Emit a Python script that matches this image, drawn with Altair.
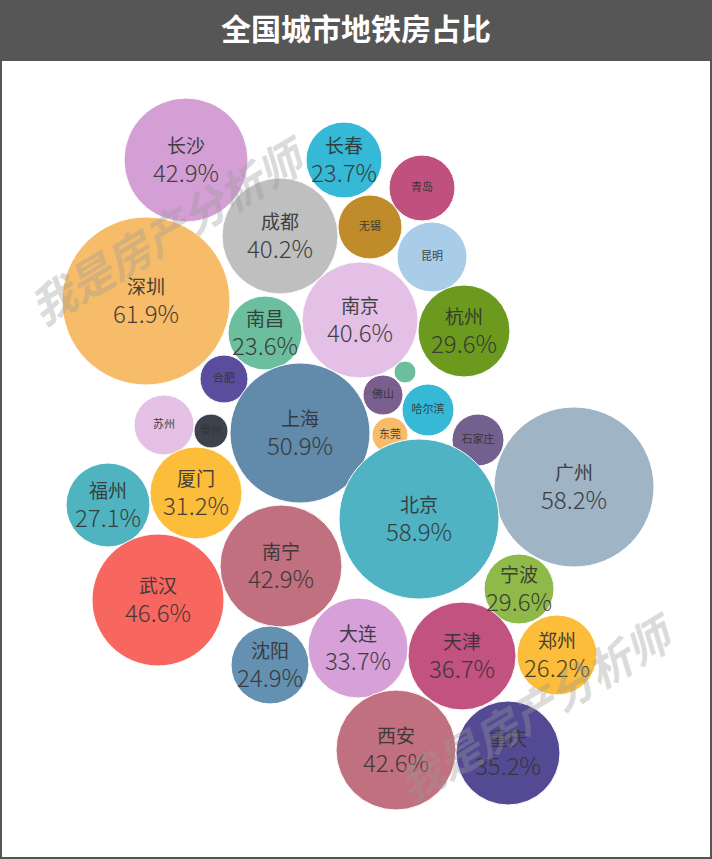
import altair as alt
import pandas as pd

W, H = 712, 859

cities = ["长沙", "长春", "青岛", "无锡", "昆明", "成都", "深圳", "南京", "杭州", "南昌",
          "合肥", "", "佛山", "哈尔滨", "东莞", "石家庄", "上海", "苏州", "泰州", "广州",
          "北京", "福州", "厦门", "南宁", "武汉", "宁波", "沈阳", "大连", "天津", "郑州",
          "西安", "重庆"]
share = [42.9, 23.7, None, None, None, 40.2, 61.9, 40.6, 29.6, 23.6,
         None, None, None, None, None, None, 50.9, None, None, 58.2,
         58.9, 27.1, 31.2, 42.9, 46.6, 29.6, 24.9, 33.7, 36.7, 26.2,
         42.6, 35.2]
# bubble layout (centre and radius, in chart units)
cx = [186, 344, 422, 370, 432, 280, 146, 360, 464, 265,
      224, 405, 383, 428, 390, 478, 300, 164, 211, 574,
      419, 108, 196, 281, 158, 519, 270, 358, 462, 557,
      396, 508]
cy = [160, 160, 188, 227, 257, 236, 301, 320, 331, 333,
      379, 372, 395, 410, 435, 440, 433, 425, 431, 487,
      519, 505, 493, 566, 600, 589, 665, 648, 656, 655,
      750, 753]
radius = [62, 38, 33, 32, 35, 58, 84, 58, 46, 37,
          24, 11, 20, 26, 18, 26, 70, 30, 17, 80,
          80, 42, 46, 61, 66, 35, 39, 50, 54, 40,
          60, 52]
colors = ["#d49fd4", "#35b9d7", "#c0517f", "#c08b2b", "#a9cde9", "#bfbfbf", "#f6bc6a", "#e4c0e6", "#6b9a1f", "#6cbf9e",
          "#5a4d9d", "#6cbf9e", "#7a5f8e", "#35b9d7", "#f6bc6a", "#74608f", "#628aab", "#e3c0e4", "#3d434d", "#9fb4c4",
          "#4fb3c4", "#4fb4c0", "#fbbd3a", "#c0707e", "#f8675f", "#8fba4a", "#6491b1", "#d7a0d9", "#c2527f", "#fbbd3a",
          "#c1707f", "#534a93"]

ids = [f"c{i}" for i in range(len(cities))]
df = pd.DataFrame({"id": ids, "city": cities, "share": share, "cx": cx, "cy": cy,
                   "r": radius, "col": colors})

xs = alt.Scale(domain=[0, W], range=[0, W])
ys = alt.Scale(domain=[0, H], range=[0, H])
X = alt.X("cx:Q", scale=xs, axis=None)
Y = alt.Y("cy:Q", scale=ys, axis=None)
FONT = "Noto Sans CJK SC"

base = alt.Chart(df)

bg = alt.Chart(df).mark_rect(color="#ffffff", stroke="#555555", strokeWidth=2).encode(
    x=alt.value(1), x2=alt.value(W - 1), y=alt.value(60), y2=alt.value(H - 1))

bar = alt.Chart(df).mark_rect(color="#565656").encode(
    x=alt.value(0), x2=alt.value(W), y=alt.value(0), y2=alt.value(60))

title = alt.Chart(df).transform_filter("datum.id == 'c0'").mark_text(
    text="全国城市地铁房占比", color="#ffffff", font=FONT, fontSize=30, fontWeight="bold",
    align="center", baseline="middle").encode(x=alt.value(W / 2), y=alt.value(31))

# Vega symbol size = (diameter)^2 for circles
circles = base.transform_calculate(area="4 * datum.r * datum.r").mark_circle(
    opacity=1, stroke="#ffffff", strokeWidth=1).encode(
    x=X, y=Y,
    size=alt.Size("area:Q", scale=None, legend=None),
    color=alt.Color("col:N", scale=None, legend=None))

big = base.transform_filter("isValid(datum.share)")
names = big.mark_text(font=FONT, fontSize=19, color="#333333", opacity=0.9,
                      dy=-13, baseline="middle").encode(x=X, y=Y, text="city:N")
vals = big.transform_calculate(lab="format(datum.share, '.1f') + '%'").mark_text(
    font=FONT, fontSize=24, color="#333333", opacity=0.9, dy=15, baseline="middle",
    fontWeight=300).encode(x=X, y=Y, text="lab:N")
small = base.transform_filter("!isValid(datum.share)").mark_text(
    font=FONT, fontSize=11, color="#333333", opacity=0.9, baseline="middle").encode(
    x=X, y=Y, text="city:N")

wm_src = alt.Chart(df).transform_filter("datum.id == 'c0'")
wm1 = wm_src.mark_text(text="我是房产分析师", font=FONT, fontSize=44, fontWeight="bold",
                       fontStyle="italic", color="#9a9a9a", opacity=0.35, angle=329,
                       align="center", baseline="middle").encode(
    x=alt.value(168), y=alt.value(236))
wm2 = wm_src.mark_text(text="我是房产分析师", font=FONT, fontSize=44, fontWeight="bold",
                       fontStyle="italic", color="#9a9a9a", opacity=0.35, angle=329,
                       align="center", baseline="middle").encode(
    x=alt.value(536), y=alt.value(713))

chart = alt.layer(bg, bar, title, circles, names, vals, small, wm1, wm2).properties(
    width=W, height=H, padding=0, autosize=alt.AutoSizeParams(type="none"),
    background="#ffffff").configure_view(stroke=None)

chart.save("out.html", embed_options={"renderer": "svg", "actions": False})
